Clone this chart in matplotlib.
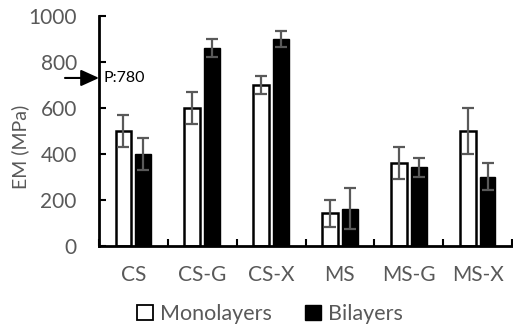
import matplotlib
matplotlib.use("Agg")
import matplotlib.pyplot as plt
from matplotlib.patches import Patch
import numpy as np

categories = ["CS", "CS-G", "CS-X", "MS", "MS-G", "MS-X"]
mono = [500, 600, 700, 140, 360, 500]
mono_err = [70, 70, 40, 60, 70, 100]
bi = [400, 860, 900, 160, 340, 300]
bi_err = [70, 40, 35, 90, 40, 60]
yticks = [0, 200, 400, 600, 800, 1000]
annot_text = "P:780"
annot_y = 730

plt.rcParams['font.family'] = ['Lato', 'DejaVu Sans']
gray = '#595959'

fig = plt.figure(figsize=(5.13, 3.32), dpi=100)
ax = fig.add_axes([99/513, 1 - 245.5/332, 413/513, 229.5/332])

x = np.arange(len(categories))
w = 0.23
off = 0.145
ax.bar(x - off, mono, w, color='white', edgecolor='black', linewidth=1.8, zorder=2)
ax.bar(x + off, bi, w, color='black', edgecolor='black', linewidth=1.0, zorder=2)
ax.errorbar(x - off, mono, yerr=mono_err, fmt='none', ecolor=gray, elinewidth=1.6,
            capsize=4.3, capthick=1.6, zorder=3)
ax.errorbar(x + off, bi, yerr=bi_err, fmt='none', ecolor=gray, elinewidth=1.6,
            capsize=4.3, capthick=1.6, zorder=3)

ax.set_xlim(-0.5, len(categories) - 0.5)
ax.set_ylim(0, 1000)
ax.set_yticks(yticks)
ax.tick_params(axis='y', direction='in', length=5, width=1.5, colors='black',
               labelcolor=gray, labelsize=15, pad=16)
ax.set_xticks(x)
ax.set_xticklabels(categories)
ax.tick_params(axis='x', length=0, labelcolor=gray, labelsize=15, pad=14)
ax.set_xticks(np.arange(len(categories) + 1) - 0.5, minor=True)
ax.tick_params(axis='x', which='minor', direction='in', length=5, width=1.5, colors='black')

for s in ['top', 'right']:
    ax.spines[s].set_visible(False)
for s in ['left', 'bottom']:
    ax.spines[s].set_linewidth(2)
    ax.spines[s].set_color('black')

ax.set_ylabel("EM (MPa)", color=gray, fontsize=14, va='center')
ax.yaxis.set_label_coords((20 - 99) / 413, (245.5 - 147) / 229.5)

ax.annotate('', xy=(-0.5, annot_y), xytext=(-0.5 - 34/68.8, annot_y),
            arrowprops=dict(arrowstyle='-|>,head_length=1.1,head_width=0.5',
                            color='black', lw=1.5, mutation_scale=10,
                            shrinkA=0, shrinkB=0),
            annotation_clip=False)
ax.text(-0.5 + 4/68.8, annot_y, annot_text, fontsize=11.5, color='black',
        va='center', ha='left')

handles = [Patch(facecolor='white', edgecolor='black', linewidth=1.3),
           Patch(facecolor='black', edgecolor='black')]
fig.legend(handles, ["Monolayers", "Bilayers"], loc='center', bbox_to_anchor=(270/513, 1 - 314/332),
           ncol=2, frameon=False, fontsize=15.5, labelcolor=gray, handlelength=0.75,
           handleheight=0.75, handletextpad=0.35, columnspacing=1.5)

fig.savefig("out.png", dpi=100)
